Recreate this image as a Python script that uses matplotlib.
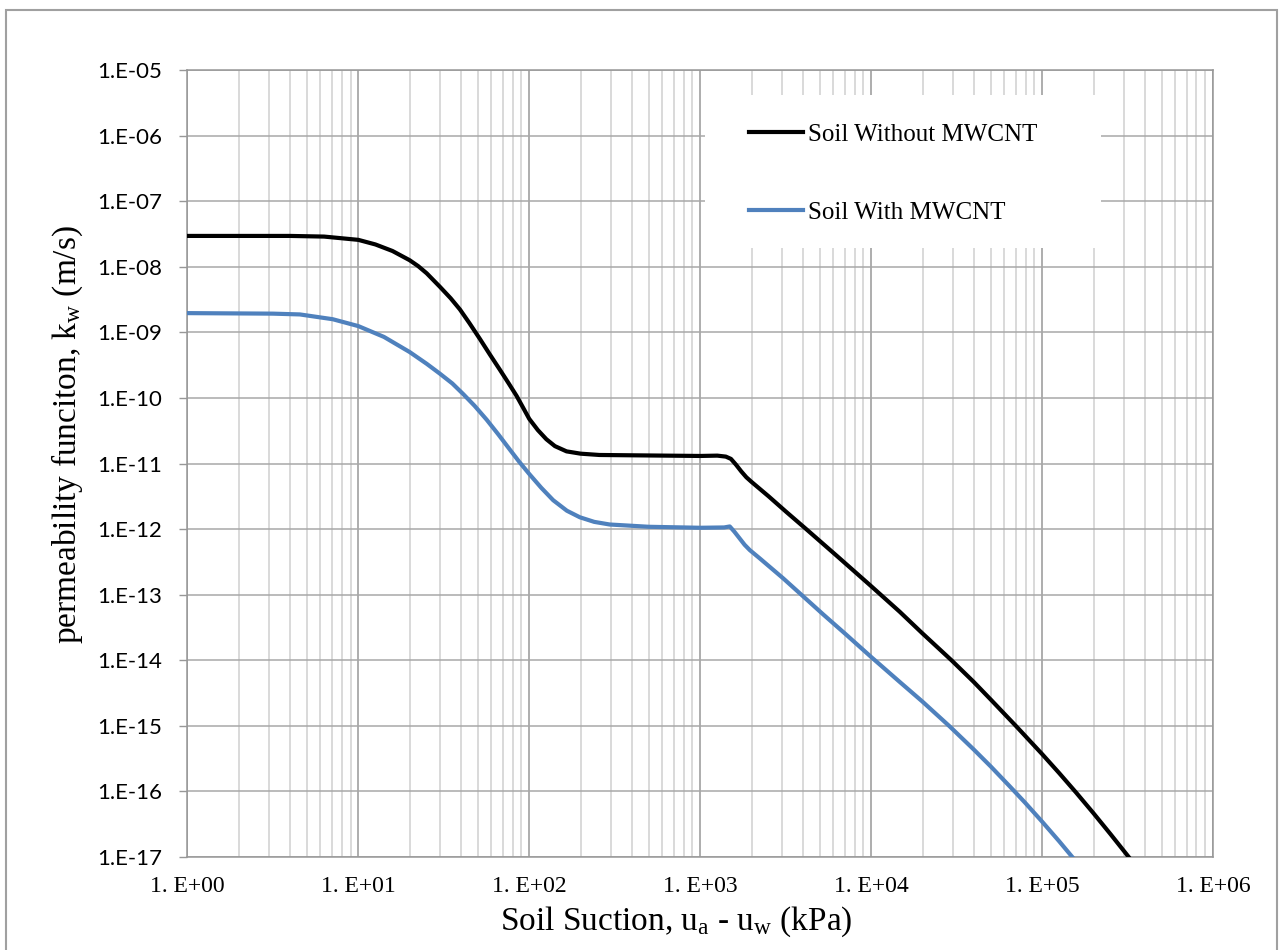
#!/usr/bin/env python3
"""
Plot of the permeability function k_w against soil suction (log-log)
for soil with and without MWCNT.
"""

import math
import numpy as np
import matplotlib
matplotlib.use('Agg')
import matplotlib.pyplot as plt
from matplotlib.patches import Rectangle
from matplotlib.ticker import FixedLocator, FuncFormatter, NullLocator

# values: log10(suction kPa), log10(k m/s)
log_suction_without = [0.0, 0.6, 0.8, 1.0, 1.1, 1.2, 1.3, 1.35, 1.4, 1.477,
                       1.54, 1.594, 1.65, 1.711, 1.77, 1.828, 1.88, 1.926, 1.96, 2.0,
                       2.05, 2.1, 2.15, 2.218, 2.3, 2.41, 2.6, 3.0, 3.1, 3.15,
                       3.18, 3.21, 3.24, 3.27, 3.3, 3.4, 3.5, 3.62, 3.8, 4.0,
                       4.167, 4.3, 4.47, 4.6, 4.7, 4.85, 5.0, 5.1, 5.2, 5.3,
                       5.4, 5.51]
log_k_without = [-7.53, -7.53, -7.54, -7.59, -7.66, -7.76, -7.90, -7.99, -8.10, -8.305,
                 -8.48, -8.65, -8.86, -9.10, -9.34, -9.57, -9.78, -9.97, -10.13, -10.32,
                 -10.49, -10.63, -10.735, -10.815, -10.85, -10.87, -10.875, -10.885, -10.88, -10.895,
                 -10.93, -11.02, -11.12, -11.21, -11.28, -11.50, -11.73, -12.0, -12.41, -12.87,
                 -13.26, -13.59, -14.0, -14.33, -14.60, -15.01, -15.43, -15.72, -16.02, -16.33,
                 -16.65, -17.01]

log_suction_with = [0.0, 0.5, 0.658, 0.85, 1.0, 1.15, 1.3, 1.4, 1.477, 1.55,
                    1.613, 1.68, 1.75, 1.82, 1.887, 1.94, 2.0, 2.07, 2.14, 2.22,
                    2.296, 2.38, 2.47, 2.7, 3.0, 3.14, 3.173, 3.2, 3.23, 3.26,
                    3.29, 3.35, 3.485, 3.6, 3.719, 3.85, 4.0, 4.167, 4.3, 4.46,
                    4.6, 4.7, 4.81, 4.9, 5.0, 5.1, 5.18]
log_k_with = [-8.707, -8.715, -8.727, -8.80, -8.905, -9.07, -9.30, -9.48, -9.63, -9.78,
              -9.94, -10.12, -10.33, -10.56, -10.79, -10.97, -11.16, -11.37, -11.56, -11.72,
              -11.82, -11.89, -11.93, -11.965, -11.98, -11.975, -11.96, -12.04, -12.14, -12.24,
              -12.32, -12.45, -12.75, -13.02, -13.30, -13.6, -13.95, -14.33, -14.63, -15.01,
              -15.36, -15.62, -15.92, -16.17, -16.46, -16.76, -17.01]

series_labels = ['Soil Without MWCNT', 'Soil With MWCNT']
series_colors = ['#000000', '#4f81bd']

x_ticks = [1e0, 1e1, 1e2, 1e3, 1e4, 1e5, 1e6]
y_ticks = [1e-17, 1e-16, 1e-15, 1e-14, 1e-13, 1e-12, 1e-11, 1e-10, 1e-9, 1e-8, 1e-7, 1e-6, 1e-5]

x_label = r'Soil Suction, u$_\mathrm{a}$ - u$_\mathrm{w}$ (kPa)'
y_label = r'permeability funciton, k$_\mathrm{w}$ (m/s)'

W, H = 1283, 950


def y_tick_fmt(v, pos):
    # 1.E-05 形式
    exp = int(round(math.log10(v)))
    return f"1.E{exp:+03d}"


def x_tick_fmt(v, pos):
    # 1. E+00 形式
    exp = int(round(math.log10(v)))
    return f"1. E{exp:+03d}"


def main():
    plt.rcParams['mathtext.fontset'] = 'custom'
    plt.rcParams['mathtext.rm'] = 'Liberation Serif'
    plt.rcParams['mathtext.it'] = 'Liberation Serif:italic'

    fig = plt.figure(figsize=(W / 100, H / 100), dpi=100)
    # plot area in pixels: x 187-1213, y 70-857
    ax = fig.add_axes([187.4 / W, 1 - 857 / H, (1213 - 187.4) / W, (857 - 70) / H])

    ax.set_xscale('log')
    ax.set_yscale('log')
    ax.set_xlim(1, 1e6)
    ax.set_ylim(1e-17, 1e-5)

    # ticks / grid
    x_minor = [m * d for d in x_ticks[:-1] for m in range(2, 10)]
    ax.xaxis.set_major_locator(FixedLocator(x_ticks))
    ax.xaxis.set_minor_locator(FixedLocator(x_minor))
    ax.yaxis.set_major_locator(FixedLocator(y_ticks))
    ax.yaxis.set_minor_locator(NullLocator())
    ax.xaxis.set_major_formatter(FuncFormatter(x_tick_fmt))
    ax.xaxis.set_minor_formatter(FuncFormatter(lambda v, p: ''))
    ax.yaxis.set_major_formatter(FuncFormatter(y_tick_fmt))

    ax.set_axisbelow(True)
    ax.grid(True, which='major', axis='x', color='#979797', lw=1.1)
    ax.grid(True, which='minor', axis='x', color='#cfcfcf', lw=1.1)
    ax.grid(True, which='major', axis='y', color='#a8a8a8', lw=1.1)

    ax.tick_params(axis='x', which='both', length=0, pad=14)
    ax.tick_params(axis='y', which='major', length=6, width=1, color='#979797', pad=12)
    for lab in ax.get_yticklabels():
        lab.set_fontfamily('Lato')
        lab.set_fontsize(16)
    for lab in ax.get_xticklabels():
        lab.set_fontfamily('Liberation Serif')
        lab.set_fontsize(17)
    for sp in ax.spines.values():
        sp.set_color('#979797')
        sp.set_linewidth(1.1)

    # legend background (covers grid)
    ax.add_patch(Rectangle((0.5047, 0.7738), 0.8908 - 0.5047, 0.9682 - 0.7738,
                           transform=ax.transAxes, facecolor='white', edgecolor='none', zorder=1))

    ax.plot(np.power(10.0, log_suction_without), np.power(10.0, log_k_without),
            color=series_colors[0], lw=3.0, label=series_labels[0], zorder=3)
    ax.plot(np.power(10.0, log_suction_with), np.power(10.0, log_k_with),
            color=series_colors[1], lw=3.0, label=series_labels[1], zorder=3)

    leg = ax.legend(loc='upper left', bbox_to_anchor=(0.5476, 0.932), frameon=False,
                    borderpad=0, borderaxespad=0, handlelength=2.16, handletextpad=0.2,
                    labelspacing=2.2, prop={'family': 'Liberation Serif', 'size': 18})
    leg.set_zorder(5)

    fig.text(676.5 / W, 1 - 930 / H, x_label, ha='center', va='baseline',
             fontsize=24, family='Liberation Serif')
    fig.text(67 / W, 1 - 435 / H, y_label, ha='center', va='center', rotation=90,
             fontsize=24, family='Liberation Serif')

    # outer chart border
    fig.add_artist(Rectangle((6 / W, -0.01), (1277 - 6) / W, 1 - 10 / H + 0.01,
                             transform=fig.transFigure, fill=False,
                             edgecolor='#a0a0a0', lw=1.5))

    fig.savefig('out.png', dpi=100)
    plt.close(fig)


if __name__ == "__main__":
    main()
